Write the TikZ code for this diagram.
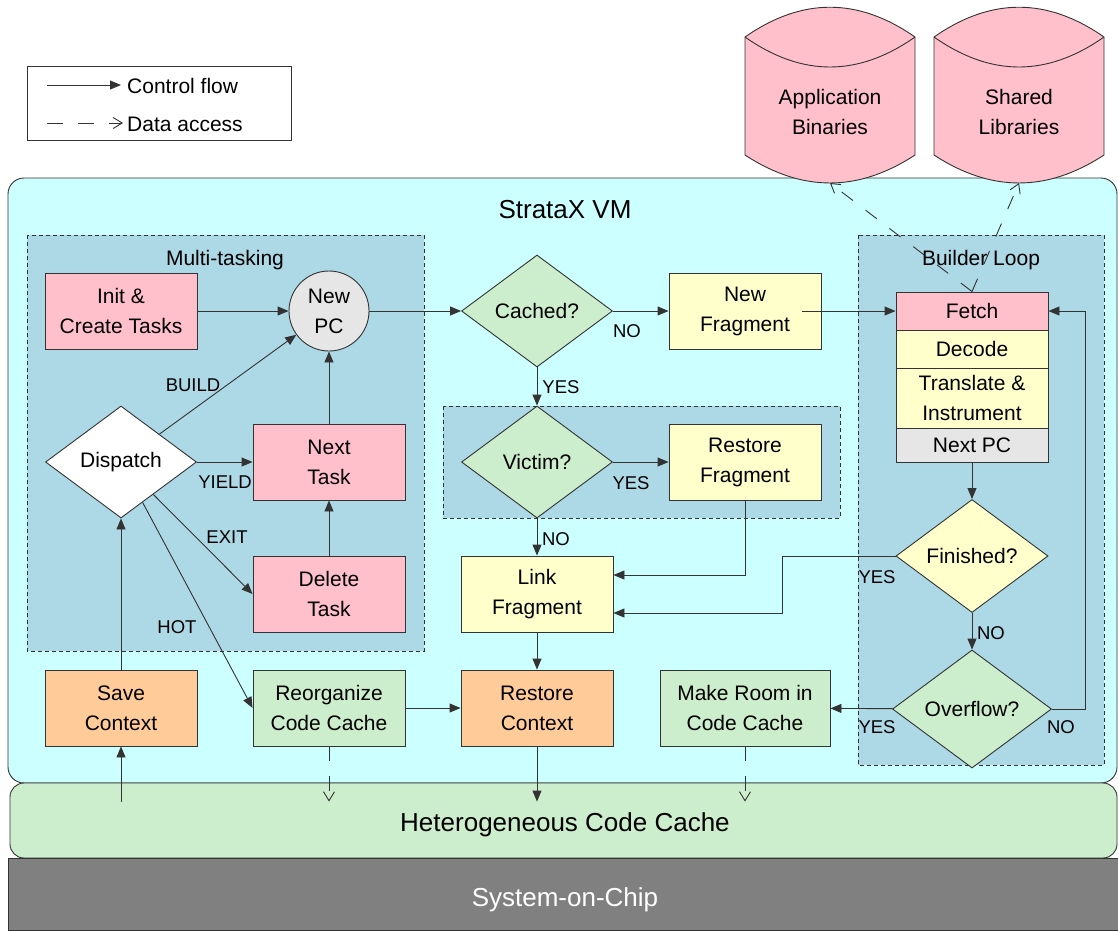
\documentclass[tikz,border=0pt]{standalone}
\usepackage{fontspec}
\setmainfont{Liberation Sans}
\usetikzlibrary{arrows.meta,shapes.geometric,calc}

\definecolor{vmcyan}{HTML}{CCFFFF}
\definecolor{groupblue}{HTML}{ADD8E6}
\definecolor{taskpink}{HTML}{FFC0CB}
\definecolor{fragyellow}{HTML}{FFFFCC}
\definecolor{cachegreen}{HTML}{CCEECC}
\definecolor{ctxorange}{HTML}{FFCC99}
\definecolor{pcgray}{HTML}{E6E6E6}
\definecolor{socgray}{HTML}{808080}
\definecolor{edge}{HTML}{333333}

\tikzset{
  txt/.style={font=\fontsize{21}{30}\selectfont, align=center},
  lbl/.style={font=\fontsize{18.5}{22}\selectfont, inner sep=0pt},
  bigtitle/.style={font=\fontsize{26}{30}\selectfont},
  box/.style={txt, draw=edge, line width=0.9pt, rectangle, inner sep=0pt,
    minimum width=152pt, minimum height=76pt},
  decision/.style={txt, draw=edge, line width=0.9pt, diamond, inner sep=0pt,
    minimum width=151pt, minimum height=112pt},
  stackbox/.style={txt, draw=edge, line width=0.9pt, rectangle, inner sep=0pt,
    minimum width=152pt},
  group/.style={draw=edge, line width=0.8pt, dash pattern=on 4pt off 3pt, fill=groupblue},
  flow/.style={draw=edge, line width=0.9pt, -{Triangle[length=11pt,width=9pt]}},
  data/.style={draw=edge, line width=0.9pt, dash pattern=on 15pt off 15pt,
    -{Straight Barb[length=9pt,width=11pt]}},
  cyl/.style={draw=edge, line width=0.9pt, fill=taskpink},
}

\begin{document}
\begin{tikzpicture}[x=1pt,y=-1pt]
\useasboundingbox (0,0) rectangle (1118,930);

% ---------- layers ----------
\draw[draw=edge, line width=0.9pt, fill=vmcyan, rounded corners=16pt] (8,178) rectangle (1117,783);
\node[bigtitle] (vmtitle) at (565,210) {StrataX VM};
\node[draw=edge, line width=0.9pt, fill=cachegreen, rounded corners=14pt,
      minimum width=1107pt, minimum height=75pt, bigtitle] (codecache) at (563.5,820.5) {};
\node[bigtitle] (cctitle) at (565,825) {Heterogeneous Code Cache};
\node[draw=edge, line width=0.9pt, fill=socgray, minimum width=1112pt, minimum height=72pt,
      inner sep=0pt] (soc) at (564,894) {};
\node[bigtitle, text=white] (soctitle) at (565,900) {System-on-Chip};

% ---------- legend ----------
\draw[draw=edge, line width=0.9pt, fill=white] (27,66) rectangle (291,140);
\coordinate (lgA1) at (47,85);  \coordinate (lgA2) at (121,85);
\coordinate (lgB1) at (47,123); \coordinate (lgB2) at (123,123);
\draw[flow] (lgA1) -- (lgA2);
\draw[data, dash pattern=on 16pt off 15pt] (lgB1) -- (lgB2);
\node[txt, anchor=west, inner sep=0pt] (lgtextA) at (127,86) {Control flow};
\node[txt, anchor=west, inner sep=0pt] (lgtextB) at (127,124) {Data access};

% ---------- storage cylinders ----------
\path[cyl] (745,37) .. controls (802,-2.7) and (858,-2.7) .. (915,37)
  -- (915,155) .. controls (858,192.3) and (802,192.3) .. (745,155) -- cycle;
\draw[draw=edge, line width=0.9pt] (745,37) .. controls (802,77) and (858,77) .. (915,37);
\node[txt] (appbin) at (830,112) {Application\\Binaries};
\coordinate (appbin-base) at (830,183);

\path[cyl] (934,37) .. controls (991,-2.7) and (1047,-2.7) .. (1104,37)
  -- (1104,155) .. controls (1047,192.3) and (991,192.3) .. (934,155) -- cycle;
\draw[draw=edge, line width=0.9pt] (934,37) .. controls (991,77) and (1047,77) .. (1104,37);
\node[txt] (shlib) at (1019,112) {Shared\\Libraries};
\coordinate (shlib-base) at (1019,183);

% ---------- groups ----------
\draw[group] (27,235) rectangle (424,651);
\node[txt] (multititle) at (225,260) {Multi-tasking};
\draw[group] (443,406) rectangle (840,518);
\draw[group] (858,235) rectangle (1104,765);
\node[txt] (buildertitle) at (981,260) {Builder Loop};

% ---------- multi-tasking ----------
\node[box, fill=taskpink] (init) at (121,311) {Init \&\\Create Tasks};
\node[txt, circle, draw=edge, line width=0.9pt, fill=pcgray, inner sep=0pt,
      minimum size=80pt] (newpc) at (329,311) {New\\PC};
\node[decision, fill=white] (dispatch) at (121,462) {Dispatch};
\node[box, fill=taskpink] (nexttask) at (329,462) {Next\\Task};
\node[box, fill=taskpink] (deltask) at (329,594) {Delete\\Task};

% ---------- bottom row ----------
\node[box, fill=ctxorange] (savectx) at (121,708) {Save\\Context};
\node[box, fill=cachegreen] (reorg) at (329,708) {Reorganize\\Code Cache};
\node[box, fill=ctxorange] (restorectx) at (537,708) {Restore\\Context};
\node[box, fill=cachegreen, minimum width=170pt] (makeroom) at (745,708) {Make Room in\\Code Cache};

% ---------- lookup path ----------
\node[decision, fill=cachegreen] (cached) at (537,311) {Cached?};
\node[box, fill=fragyellow] (newfrag) at (745,311) {New\\Fragment};
\node[decision, fill=cachegreen] (victim) at (537,462) {Victim?};
\node[box, fill=fragyellow] (restorefrag) at (745,462) {Restore\\Fragment};
\node[box, fill=fragyellow] (linkfrag) at (537,594) {Link\\Fragment};

% ---------- builder loop ----------
\node[stackbox, fill=taskpink, minimum height=38pt] (fetch) at (972,311) {Fetch};
\node[stackbox, fill=fragyellow, minimum height=38pt] (decode) at (972,349) {Decode};
\node[stackbox, fill=fragyellow, minimum height=60pt] (translate) at (972,398) {Translate \&\\Instrument};
\node[stackbox, fill=pcgray, minimum height=34pt] (nextpc) at (972,445) {Next PC};
\node[decision, fill=fragyellow, minimum width=152pt, minimum height=113pt] (finished) at (972,556) {Finished?};
\node[decision, fill=cachegreen, minimum width=159pt, minimum height=118pt] (overflow) at (972,709) {Overflow?};

% ---------- code cache access points ----------
\coordinate (cc-save) at ($(codecache.north -| savectx)+(0,19)$);
\coordinate (cc-reorg) at ($(codecache.north -| reorg)+(0,19)$);
\coordinate (cc-restore) at ($(codecache.north -| restorectx)+(0,19)$);
\coordinate (cc-make) at ($(codecache.north -| makeroom)+(0,19)$);

% ---------- control flow ----------
\draw[flow] (init) -- (newpc);
\draw[flow] (dispatch) -- (newpc);
\draw[flow] (dispatch) -- (nexttask);
\draw[flow] (dispatch) -- (deltask.west);
\draw[flow] (dispatch) -- (reorg.west);
\draw[flow] (nexttask) -- (newpc);
\draw[flow] (deltask) -- (nexttask);
\draw[flow] (savectx) -- (dispatch);
\draw[flow] (cc-save) -- (savectx);
\draw[flow] (reorg) -- (restorectx);
\draw[flow] (restorectx) -- (cc-restore);
\draw[flow] (newpc) -- (cached);
\draw[flow] (cached) -- (newfrag);
\draw[flow] ([xshift=-19pt]newfrag.east) -- (fetch);
\draw[flow] (cached) -- (victim);
\draw[flow] (victim) -- (restorefrag);
\draw[flow] (victim) -- (linkfrag);
\draw[flow] (restorefrag.south) |- ([yshift=19pt]linkfrag.east);
\draw[flow] (finished.west) -- ++(-113,0) |- ([yshift=-19pt]linkfrag.east);
\draw[flow] (linkfrag) -- (restorectx);
\draw[flow] (nextpc) -- (finished);
\draw[flow] (finished) -- (overflow);
\draw[flow] (overflow) -- (makeroom);
\draw[flow] (overflow.east) -- ++(33,0) |- (fetch.east);

% ---------- data access ----------
\draw[data] (reorg) -- (cc-reorg);
\draw[data] (makeroom) -- (cc-make);
\draw[data, dash pattern=on 14pt off 16pt] (fetch.north) -- (appbin-base);
\draw[data, dash pattern=on 14pt off 16pt] (fetch.north) -- (shlib-base);

% ---------- branch labels ----------
\node[lbl] (l-build) at (193,385) {BUILD};
\node[lbl] (l-yield) at (225,482) {YIELD};
\node[lbl] (l-exit) at (227,537) {EXIT};
\node[lbl] (l-hot) at (177,627) {HOT};
\node[lbl] (l-cno) at (627,331) {NO};
\node[lbl] (l-cyes) at (561,387) {YES};
\node[lbl] (l-vyes) at (631,483) {YES};
\node[lbl] (l-vno) at (556,539) {NO};
\node[lbl] (l-fyes) at (877,577) {YES};
\node[lbl] (l-fno) at (991,633) {NO};
\node[lbl] (l-oyes) at (877,727) {YES};
\node[lbl] (l-ono) at (1061,727) {NO};
\end{tikzpicture}
\end{document}
